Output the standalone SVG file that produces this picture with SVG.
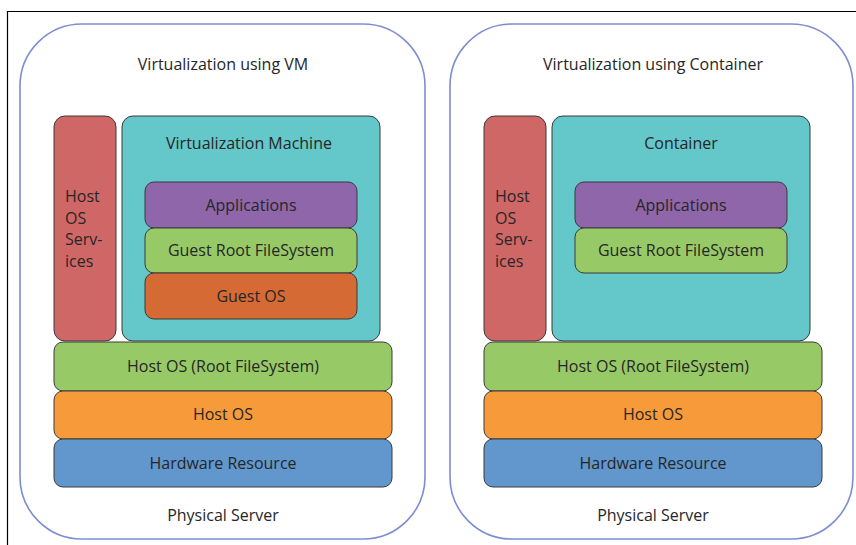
<svg xmlns="http://www.w3.org/2000/svg" width="856" height="545" viewBox="0 0 856 545">
<style>
text{font-family:"Open Sans","Noto Sans","Liberation Sans",sans-serif;font-size:16px;fill:#262626}
.c{text-anchor:middle}
.outer{fill:#fff;stroke:#7d8ed0;stroke-width:1.6}
.b{stroke:#3a3a3a;stroke-width:1}
.red{fill:#d06767}.teal{fill:#64c7c9}.pur{fill:#8e66a9}.grn{fill:#97ca66}.dor{fill:#d56a34}.org{fill:#f69a3a}.blu{fill:#6197cc}
</style>
<rect width="856" height="545" fill="#fff"/>
<path d="M7.5 545V11.5H856" fill="none" stroke="#000" stroke-width="1.2"/>
<g id="vm">
<rect class="outer" x="20" y="24" width="405" height="515" rx="62"/>
<text class="c" x="223" y="70">Virtualization using VM</text>
<g id="vm-services"><rect class="b red" x="54" y="116" width="62" height="225" rx="11"/>
<text x="65" y="202">Host</text><text x="65" y="224">OS</text><text x="65" y="245">Serv-</text><text x="65" y="267">ices</text></g>
<g id="vm-machine"><rect class="b teal" x="122" y="116" width="258" height="225" rx="11"/>
<text class="c" x="249" y="149">Virtualization Machine</text></g>
<g id="vm-apps"><rect class="b pur" x="145" y="182" width="212" height="46" rx="9"/><text class="c" x="251" y="211">Applications</text></g>
<g id="vm-grfs"><rect class="b grn" x="145" y="228" width="212" height="45" rx="9"/><text class="c" x="251" y="256">Guest Root FileSystem</text></g>
<g id="vm-guestos"><rect class="b dor" x="145" y="273" width="212" height="46" rx="9"/><text class="c" x="251" y="302">Guest OS</text></g>
<g id="vm-hostfs"><rect class="b grn" x="54" y="342" width="338" height="49" rx="9"/><text class="c" x="223" y="372">Host OS (Root FileSystem)</text></g>
<g id="vm-hostos"><rect class="b org" x="54" y="391" width="338" height="48" rx="9"/><text class="c" x="223" y="420">Host OS</text></g>
<g id="vm-hw"><rect class="b blu" x="54" y="439" width="338" height="48" rx="9"/><text class="c" x="223" y="469">Hardware Resource</text></g>
<text class="c" x="223" y="521">Physical Server</text>
</g>
<g id="ct">
<rect class="outer" x="450" y="24" width="403" height="515" rx="62"/>
<text class="c" x="653" y="70">Virtualization using Container</text>
<g id="ct-services"><rect class="b red" x="484" y="116" width="62" height="225" rx="11"/>
<text x="495" y="202">Host</text><text x="495" y="224">OS</text><text x="495" y="245">Serv-</text><text x="495" y="267">ices</text></g>
<g id="ct-container"><rect class="b teal" x="552" y="116" width="258" height="225" rx="11"/>
<text class="c" x="681" y="149">Container</text></g>
<g id="ct-apps"><rect class="b pur" x="575" y="182" width="212" height="46" rx="9"/><text class="c" x="681" y="211">Applications</text></g>
<g id="ct-grfs"><rect class="b grn" x="575" y="228" width="212" height="45" rx="9"/><text class="c" x="681" y="256">Guest Root FileSystem</text></g>
<g id="ct-hostfs"><rect class="b grn" x="484" y="342" width="338" height="49" rx="9"/><text class="c" x="653" y="372">Host OS (Root FileSystem)</text></g>
<g id="ct-hostos"><rect class="b org" x="484" y="391" width="338" height="48" rx="9"/><text class="c" x="653" y="420">Host OS</text></g>
<g id="ct-hw"><rect class="b blu" x="484" y="439" width="338" height="48" rx="9"/><text class="c" x="653" y="469">Hardware Resource</text></g>
<text class="c" x="653" y="521">Physical Server</text>
</g>
<g id="connectors"></g>
</svg>
